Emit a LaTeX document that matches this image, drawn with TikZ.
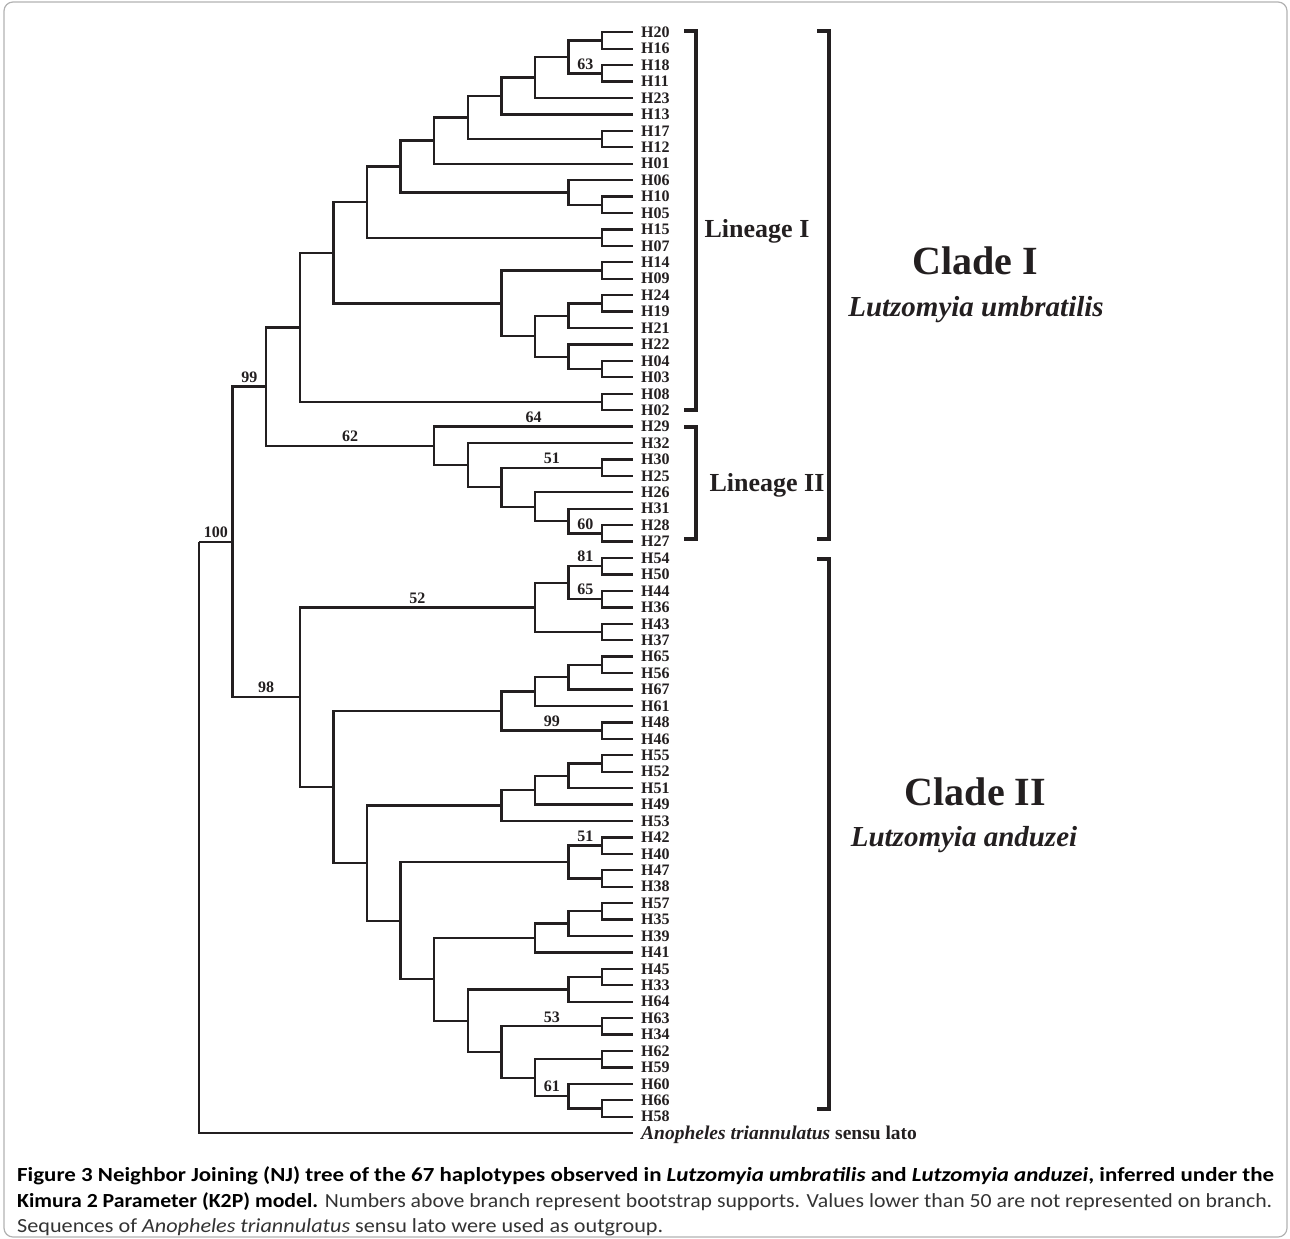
\documentclass[tikz,border=0pt]{standalone}
\usepackage{fontspec}
\usepackage{graphicx}
\setmainfont{Liberation Serif}
\newfontfamily\capfont{Carlito}
\definecolor{ink}{HTML}{231F20}
\newcommand\LX[1]{{199+33.6*(#1)}}
\newcommand\RY[1]{{32.3+16.43*(#1)}}
\tikzset{
  br/.style={draw=ink, line width=2.3pt},
  brk/.style={draw=ink, line width=3.8pt},
  leaf/.style={anchor=west, inner sep=0pt, text=ink, font=\fontsize{16}{16}\selectfont\bfseries},
  bl/.style={pos=0.75, above, inner sep=3pt, text=ink, font=\fontsize{16}{16}\selectfont\bfseries},
  grp/.style={anchor=base, inner sep=0pt, text=ink, font=\fontsize{26}{26}\selectfont\bfseries},
  clade/.style={anchor=base, inner sep=0pt, text=ink, font=\fontsize{40}{40}\selectfont\bfseries},
  species/.style={anchor=base, inner sep=0pt, text=ink, font=\fontsize{29}{29}\selectfont\bfseries\itshape},
  capline/.style={anchor=base west, inner sep=0pt, text=black, font=\capfont\fontsize{20}{20}\selectfont}
}
\begin{document}
\begin{tikzpicture}[x=1pt, y=-1pt]
\useasboundingbox (0,0) rectangle (1290,1239);
\draw[gray!60, line width=1.2pt, rounded corners=9pt] (4,2) rectangle (1287,1237);

% leaves
\foreach \r/\n in {0/H20,1/H16,2/H18,3/H11,4/H23,5/H13,6/H17,7/H12,8/H01,9/H06,10/H10,11/H05,12/H15,13/H07,14/H14,15/H09,16/H24,17/H19,18/H21,19/H22,20/H04,21/H03,22/H08,23/H02,24/H29,25/H32,26/H30,27/H25,28/H26,29/H31,30/H28,31/H27,32/H54,33/H50,34/H44,35/H36,36/H43,37/H37,38/H65,39/H56,40/H67,41/H61,42/H48,43/H46,44/H55,45/H52,46/H51,47/H49,48/H53,49/H42,50/H40,51/H47,52/H38,53/H57,54/H35,55/H39,56/H41,57/H45,58/H33,59/H64,60/H63,61/H34,62/H62,63/H59,64/H60,65/H66,66/H58} {
  \coordinate (l\n) at (633,\RY{\r});
  \node[leaf] (t\n) at (641,\RY{\r}) {\n};
}
\coordinate (lOut) at (633,\RY{67});
\node[anchor=base west, inner sep=0pt, text=ink, font=\fontsize{19.5}{19.5}\selectfont\bfseries] (tOut) at (641,{32.3+16.43*67+6.5}) {\textit{Anopheles triannulatus} sensu lato};

% internal nodes
\foreach \n/\k/\r in {a1/12/0.5, a2/12/2.5, a3/11/1.5, a4/10/2.75, a5/9/3.875, a6/12/6.5, a7/8/5.1875, a8/7/6.59375, a9/12/10.5, a10/11/9.75, a11/6/8.171875, a12/12/12.5, a13/5/10.3359375, a14/12/14.5, a15/12/16.5, a16/11/17.25, a17/12/20.5, a18/11/19.75, a19/10/18.5, a20/9/16.5, a21/4/13.41796875, a22/12/22.5, a23/3/17.958984, b1/12/26.5, b2/12/30.5, b3/11/29.75, b4/10/28.875, b5/9/27.6875, b6/8/26.34375, b7/7/25.171875, a24/2/21.565430, c1/12/32.5, c2/12/34.5, c3/11/33.5, c4/12/36.5, c5/10/35, c6/12/38.5, c7/11/39.25, c8/10/40.125, c9/12/42.5, c10/9/41.3125, c11/12/44.5, c12/11/45.25, c13/10/46.125, c14/9/47.0625, c15/12/49.5, c16/12/51.5, c17/11/50.5, c18/12/53.5, c19/11/54.25, c20/10/55.125, c21/12/57.5, c22/11/58.25, c23/12/60.5, c24/12/62.5, c25/12/65.5, c26/11/64.75, c27/10/63.625, c28/9/62.0625, c29/8/60.15625, c30/7/57.640625, c31/6/54.0703125, c32/5/50.566406, c33/4/45.939453, c34/3/40.469727, d1/1/31.017578, root/0/31.017578} {
  \coordinate (\n) at (\LX{\k},\RY{\r});
}

% unlabeled branches
\foreach \p/\c in {a1/lH20, a1/lH16, a2/lH18, a2/lH11, a3/a1, a4/a3, a4/lH23, a5/a4, a5/lH13, a6/lH17, a6/lH12, a7/a5, a7/a6, a8/a7, a8/lH01, a9/lH10, a9/lH05, a10/lH06, a10/a9, a11/a8, a11/a10, a12/lH15, a12/lH07, a13/a11, a13/a12, a14/lH14, a14/lH09, a15/lH24, a15/lH19, a16/a15, a16/lH21, a17/lH04, a17/lH03, a18/lH22, a18/a17, a19/a16, a19/a18, a20/a14, a20/a19, a21/a13, a21/a20, a22/lH08, a22/lH02, a23/a21, a23/a22, b1/lH30, b1/lH25, b2/lH28, b2/lH27, b3/lH31, b4/lH26, b4/b3, b5/b4, b6/lH32, b6/b5, b7/b6, a24/a23, c1/lH54, c1/lH50, c2/lH44, c2/lH36, c4/lH43, c4/lH37, c5/c3, c5/c4, c6/lH65, c6/lH56, c7/c6, c7/lH67, c8/c7, c8/lH61, c9/lH48, c9/lH46, c10/c8, c11/lH55, c11/lH52, c12/c11, c12/lH51, c13/c12, c13/lH49, c14/c13, c14/lH53, c15/lH42, c15/lH40, c16/lH47, c16/lH38, c17/c16, c18/lH57, c18/lH35, c19/c18, c19/lH39, c20/c19, c20/lH41, c21/lH45, c21/lH33, c22/c21, c22/lH64, c23/lH63, c23/lH34, c24/lH62, c24/lH59, c25/lH66, c25/lH58, c26/lH60, c26/c25, c27/c24, c28/c27, c29/c22, c29/c28, c30/c20, c30/c29, c31/c17, c31/c30, c32/c14, c32/c31, c33/c10, c33/c32, c34/c33, root/lOut} {
  \draw[br] (\p) |- (\c);
}

% labelled branches (bootstrap supports)
\foreach \p/\c/\v in {a3/a2/63, b3/b2/60, b5/b1/51, b7/lH29/64, a24/b7/62, c3/c1/81, c3/c2/65, c10/c9/99, c17/c15/51, c27/c26/61, c28/c23/53, c34/c5/52, d1/a24/99, d1/c34/98, root/d1/100} {
  \draw[br] (\p) |- node[bl] {\v} (\c);
}

% brackets
\draw[brk] (684,31) -- (696,31) -- (696,410) -- (684,410);
\draw[brk] (684,427) -- (696,427) -- (696,539) -- (684,539);
\draw[brk] (817,31) -- (829,31) -- (829,539) -- (817,539);
\draw[brk] (817,559) -- (829,559) -- (829,1109) -- (817,1109);

\node[grp] (lin1) at (757,237.2) {Lineage I};
\node[grp] (lin2) at (767,491.6) {Lineage II};
\node[clade] (cl1) at (975.5,274.2) {Clade I};
\node[species] (sp1) at (976,316.6) {Lutzomyia umbratilis};
\node[clade] (cl2) at (975.5,805) {Clade II};
\node[species] (sp2) at (964,846.6) {Lutzomyia anduzei};

% caption
\node[capline] (cap1) at (17,1181.5) {\resizebox{1257pt}{\height}{\textbf{Figure 3 Neighbor Joining (NJ) tree of the 67 haplotypes observed in \textit{Lutzomyia umbratilis} and \textit{Lutzomyia anduzei}, inferred under the}}};
\node[capline] (cap2) at (17,1207.5) {\resizebox{1255pt}{\height}{\textbf{Kimura 2 Parameter (K2P) model.} {\color{black!80}Numbers above branch represent bootstrap supports. Values lower than 50 are not represented on branch.}}};
\node[capline] (cap3) at (17,1232.5) {\resizebox{646pt}{\height}{\color{black!80}Sequences of \textit{Anopheles triannulatus} sensu lato were used as outgroup.}};
\end{tikzpicture}
\end{document}
